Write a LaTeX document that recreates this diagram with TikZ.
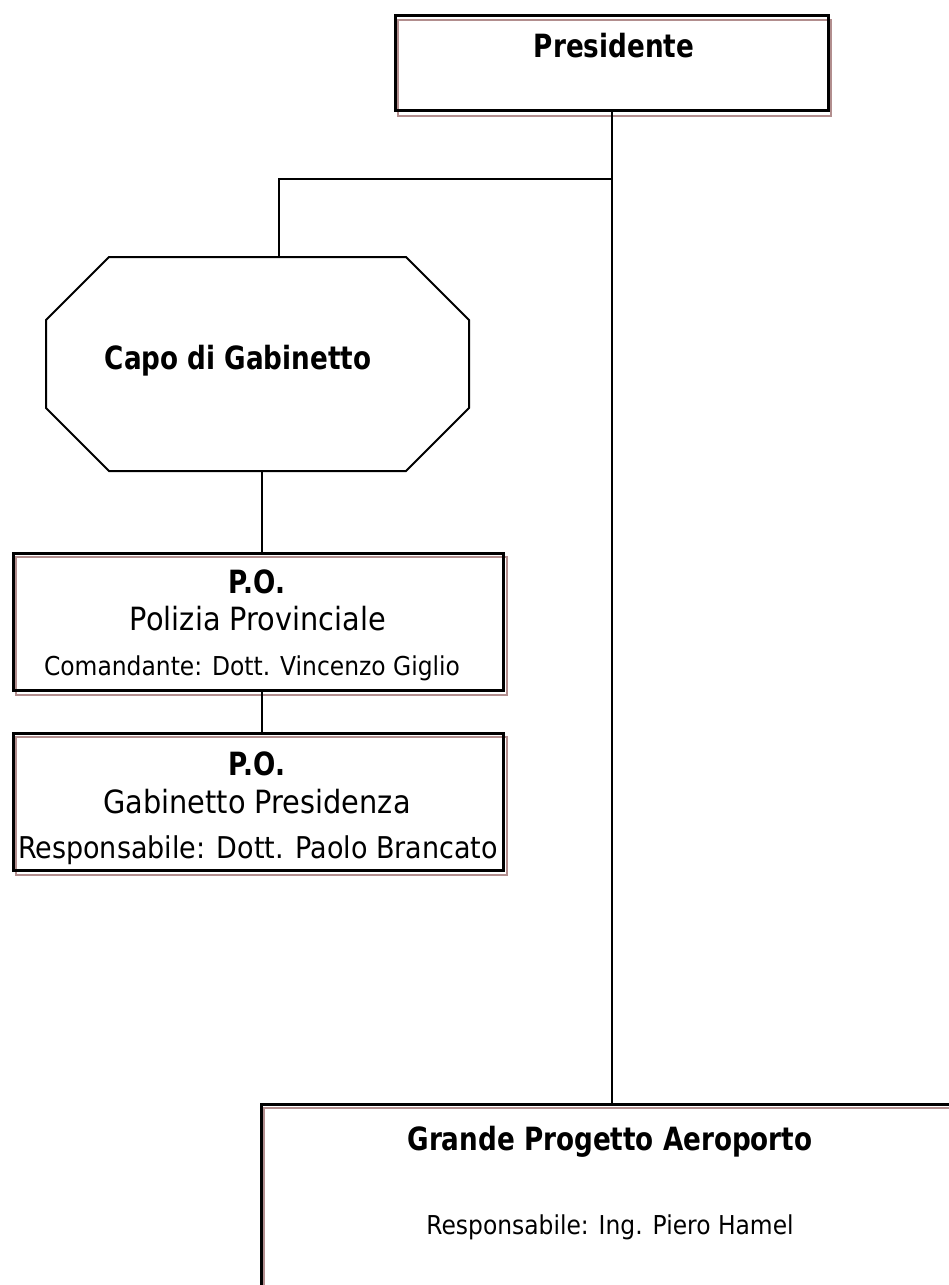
\documentclass[tikz,border=0pt]{standalone}
\usepackage{fontspec}
\setmainfont{DejaVu Sans}[FakeStretch=0.9]
\newfontfamily\headfont{DejaVu Sans}[FakeStretch=0.82]

\definecolor{shadowbrown}{RGB}{178,142,142}

\begin{document}
\begin{tikzpicture}[x=1pt,y=-1pt,
  box/.style={draw=black, line width=3pt, rectangle, inner sep=0pt, outer sep=0pt},
  ghost/.style={draw=shadowbrown, line width=2pt},
  link/.style={draw=black, line width=2pt},
  octline/.style={draw=black, line width=2pt, line join=miter},
  frame/.style={draw=none, rectangle, inner sep=0pt, outer sep=0pt},
  title/.style={anchor=base, inner sep=0pt, font=\headfont\bfseries\fontsize{32}{34}\selectfont},
  sub/.style={anchor=base, inner sep=0pt, font=\fontsize{32}{34}\selectfont},
  who/.style={anchor=base, inner sep=0pt, font=\fontsize{26}{28}\selectfont},
  whobig/.style={anchor=base, inner sep=0pt, font=\fontsize{30}{32}\selectfont},
]
\useasboundingbox (0,0) rectangle (949,1285);
\clip (0,0) rectangle (949,1285);

% brown offset outlines behind the boxes
\draw[ghost] (398,20) rectangle (831,116);
\draw[ghost] (16,557) rectangle (507,695);
\draw[ghost] (16,737) rectangle (507,875);
\draw[ghost] (264,1108) rectangle (1110,1410);

% boxes
\node[box, minimum width=433pt, minimum height=95pt] (pres) at (611.5,62.5) {};
\node[frame, minimum width=423pt, minimum height=214pt] (capo) at (257.5,364) {};
\node[box, minimum width=490pt, minimum height=137pt] (pol) at (258,621.5) {};
\node[box, minimum width=490pt, minimum height=137pt] (gab) at (258,801.5) {};
\node[box, minimum width=845pt, minimum height=300pt] (grande) at (683.5,1254) {};

% octagon around the chief of staff
\draw[octline] ([xshift=63pt]capo.north west) -- ([xshift=-63pt]capo.north east)
  -- ([yshift=-63pt]capo.north east) -- ([yshift=63pt]capo.south east)
  -- ([xshift=-63pt]capo.south east) -- ([xshift=63pt]capo.south west)
  -- ([yshift=63pt]capo.south west) -- ([yshift=-63pt]capo.north west) -- cycle;

% texts
\node[title] (tpres) at (614,57) {Presidente};
\node[title] (tcapo) at (238,369) {Capo di Gabinetto};
\node[title] (tpo1) at (257,593) {P.O.};
\node[sub] (tpol) at (258,630) {Polizia Provinciale};
\node[who] (tcom) at (252,675) {Comandante: Dott. Vincenzo Giglio};
\node[title] (tpo2) at (257,775) {P.O.};
\node[sub] (tgab) at (257,813) {Gabinetto Presidenza};
\node[whobig] (tresp1) at (258,858) {Responsabile: Dott. Paolo Brancato};
\node[title] (tgr) at (610,1150) {Grande Progetto Aeroporto};
\node[who] (tresp2) at (610,1234) {Responsabile: Ing. Piero Hamel};

% connectors
\coordinate (split) at (611.5,179);
\draw[link] (pres.south) -- (pres.south |- grande.north);
\draw[link] (split) -| ([xshift=21.5pt]capo.north);
\draw[link] ([xshift=4.5pt]capo.south) -- ([xshift=4.5pt]capo.south |- pol.north);
\draw[link] ([xshift=4pt]pol.south) -- ([xshift=4pt]gab.north);
\end{tikzpicture}
\end{document}
